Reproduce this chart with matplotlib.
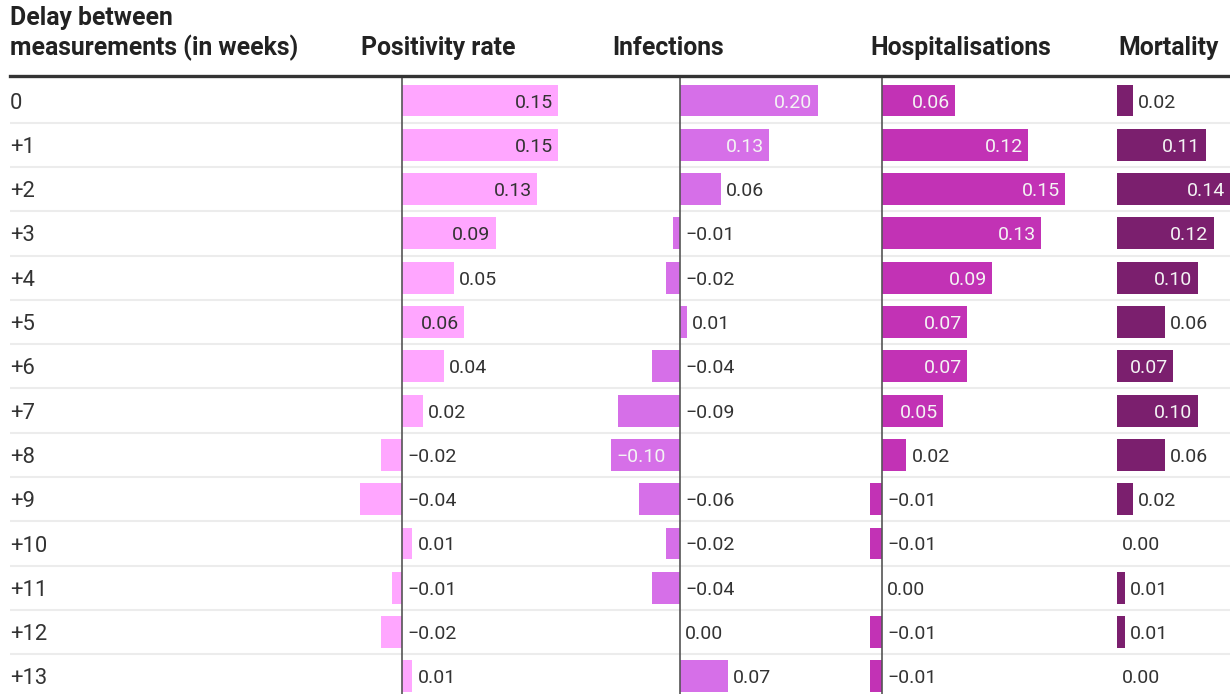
import matplotlib
matplotlib.use("Agg")
import matplotlib.pyplot as plt

plt.rcParams['font.family'] = ['Roboto', 'DejaVu Sans']

# ------------------------------------------------------------------ data
delays = ["0", "+1", "+2", "+3", "+4", "+5", "+6", "+7",
          "+8", "+9", "+10", "+11", "+12", "+13"]

positivity = [0.15, 0.15, 0.13, 0.09, 0.05, 0.06, 0.04, 0.02,
              -0.02, -0.04, 0.01, -0.01, -0.02, 0.01]
infections = [0.20, 0.13, 0.06, -0.01, -0.02, 0.01, -0.04, -0.09,
              -0.10, -0.06, -0.02, -0.04, 0.00, 0.07]
hospitalisations = [0.06, 0.12, 0.15, 0.13, 0.09, 0.07, 0.07, 0.05,
                    0.02, -0.01, -0.01, 0.00, -0.01, -0.01]
mortality = [0.02, 0.11, 0.14, 0.12, 0.10, 0.06, 0.07, 0.10,
             0.06, 0.02, 0.00, 0.01, 0.01, 0.00]

titles = ["Positivity rate", "Infections", "Hospitalisations", "Mortality"]

# ------------------------------------------------------------------ layout
W, H = 1230, 694
fig = plt.figure(figsize=(W / 100, H / 100), dpi=100)

TXT = '#333333'
HEAD = '#222222'
GRID = '#ececec'
row_top = 78          # px, just under the header rule
row_h = 44.3          # px per row
first_center = 100.5  # px

n = len(delays)
ylim = ((H - first_center) / row_h, -(first_center - row_top) / row_h)


def px_axes(x0, x1):
    # axes from pixel x0 to x1, spanning the table body
    return fig.add_axes([x0 / W, 0, (x1 - x0) / W, (H - row_top) / H])


# background axes: row labels + separators
bg = px_axes(10, 1230)
bg.set_xlim(0, 1)
bg.set_ylim(*ylim)
bg.axis('off')
for i, lab in enumerate(delays):
    bg.text(0, i, lab, ha='left', va='center_baseline', fontsize=15.8, color=TXT)
for i in range(n):
    bg.axhline(i + 0.5, color=GRID, lw=1.5)

# columns: (values, colour, text colour inside, pixel x0, x1, zero px, px per unit, zero line)
columns = [
    (positivity, '#ffa6ff', TXT, 340, 600, 402, 1040, True),
    (infections, '#d66fe8', '#f4f4f4', 600, 862, 680, 688, True),
    (hospitalisations, '#c232b5', '#f4f4f4', 862, 1105, 882, 1220, True),
    (mortality, '#7b1f6e', '#f4f4f4', 1110, 1230, 1117, 805, False),
]
title_x = [361, 612, 870, 1118]

for (vals, col, intxt, x0, x1, z, scale, zline), tx, title in zip(columns, title_x, titles):
    ax = px_axes(x0, x1)
    ax.set_xlim(-(z - x0) / scale, (x1 - z) / scale)
    ax.set_ylim(*ylim)
    ax.axis('off')
    ax.barh(range(n), vals, height=0.72, color=col, zorder=2)
    if zline:
        ax.axvline(0, color='#555555', lw=1.2, zorder=3)
    pad = 5 / scale
    for i, v in enumerate(vals):
        s = f"{v:.2f}".replace('-', '\u2212')
        w_px = abs(v) * scale
        need = 55 + (11 if v < 0 else 0)   # label must fit inside the bar
        if w_px > need:
            if v > 0:
                ax.text(v - pad, i, s, ha='right', va='center_baseline',
                        fontsize=14, color=intxt, zorder=4)
            else:
                ax.text(v + pad, i, s, ha='left', va='center_baseline',
                        fontsize=14, color=intxt, zorder=4)
        else:
            xpos = max(v, 0) + pad
            ax.text(xpos, i, s, ha='left', va='center_baseline', fontsize=14,
                    color=TXT, zorder=4)
    fig.text(tx / W, 1 - 48 / H, title, ha='left', va='center',
             fontsize=17.8, fontweight='bold', color=HEAD)

fig.text(10 / W, 1 - 18 / H, "Delay between", ha='left', va='center',
         fontsize=17.8, fontweight='bold', color=HEAD)
fig.text(10 / W, 1 - 48 / H, "measurements (in weeks)", ha='left', va='center',
         fontsize=17.8, fontweight='bold', color=HEAD)

# header rule
fig.add_artist(plt.Line2D([10 / W, 1], [1 - 76 / H, 1 - 76 / H],
                          color='#333333', lw=2.4, transform=fig.transFigure))

plt.savefig('out.png', dpi=100, facecolor='white')
